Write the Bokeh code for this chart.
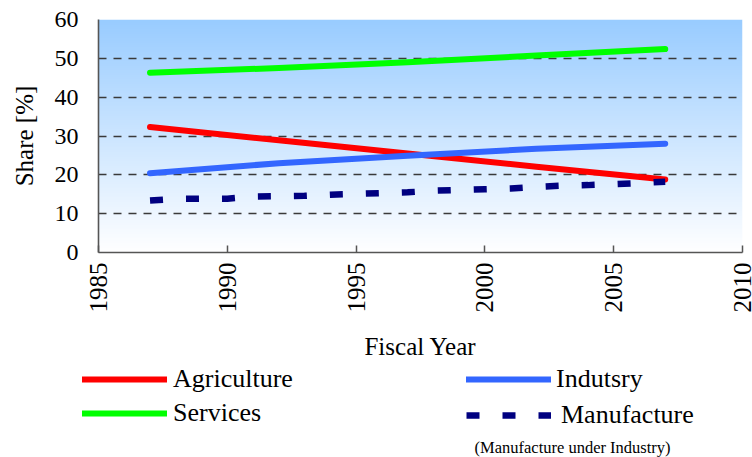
import numpy as np
from math import pi
from bokeh.plotting import figure
from bokeh.layouts import column
from bokeh.models import Range1d, FixedTicker, Legend, LegendItem, Label
from bokeh.embed import file_html
from bokeh.resources import INLINE

# ---- data ----
years = [1987, 1992, 1997, 2002, 2007]
agriculture = [32.3, 28.9, 25.5, 22.1, 18.8]
industry = [20.4, 23.0, 24.9, 26.7, 28.0]
services = [46.3, 47.5, 49.0, 50.7, 52.4]

manu_years = [1987, 1988, 1989, 1990, 1991, 1992, 1993, 1994, 1995, 1996, 1997,
              1998, 1999, 2000, 2001, 2002, 2003, 2004, 2005, 2006, 2007]
manufacture = [13.4, 13.8, 13.85, 13.85, 14.4, 14.5, 14.6, 14.9, 15.1, 15.3, 15.5,
               15.9, 16.1, 16.3, 16.5, 16.9, 17.2, 17.35, 17.6, 17.9, 18.2]

x_ticks = [1985, 1990, 1995, 2000, 2005, 2010]
y_ticks = [0, 10, 20, 30, 40, 50, 60]

FONT = "Liberation Serif"
W = 752
H_MAIN = 364
H_LEG = 457 - H_MAIN

STYLES = {
    "Agriculture": dict(line_color="#FF0000", line_width=6, line_cap="round", line_join="round"),
    "Services": dict(line_color="#00FF00", line_width=6, line_cap="round", line_join="round"),
    "Indutsry": dict(line_color="#3366FF", line_width=6, line_cap="round", line_join="round"),
    "Manufacture": dict(line_color="#000080", line_width=6.5, line_dash="13 23"),
}

p = figure(width=W, height=H_MAIN, output_backend="svg", toolbar_location=None,
           x_range=Range1d(1985, 2010), y_range=Range1d(0, 60),
           min_border_left=98, min_border_right=10, min_border_top=19,
           min_border_bottom=H_MAIN - 252)
p.outline_line_color = None
p.background_fill_color = "white"
p.border_fill_color = "white"

# gradient background (light blue at top to white at bottom)
n = 256
t = np.linspace(0, 1, n)
r = (255 + (153 - 255) * t).astype(np.uint32)
g = (255 + (204 - 255) * t).astype(np.uint32)
b = np.full(n, 255, dtype=np.uint32)
a = np.full(n, 255, dtype=np.uint32)
col = (a << 24) | (b << 16) | (g << 8) | r
img = col.reshape(n, 1).astype(np.uint32)
bg = p.image_rgba(image=[img], x=1985, y=0, dw=25, dh=60)
bg.level = "image"

# grid
p.xgrid.grid_line_color = None
p.ygrid.grid_line_color = "#3a3a3a"
p.ygrid.grid_line_dash = "8 7"
p.ygrid.grid_line_width = 1.3

# axes
p.xaxis.ticker = FixedTicker(ticks=x_ticks)
p.yaxis.ticker = FixedTicker(ticks=y_ticks)
for ax in (p.xaxis[0], p.yaxis[0]):
    ax.axis_line_color = "#555555"
    ax.axis_line_width = 1.6
    ax.major_tick_line_color = "#555555"
    ax.major_tick_line_width = 1.5
    ax.minor_tick_line_color = None
    ax.major_label_text_font = FONT
    ax.major_label_text_color = "black"
    ax.axis_label_text_font = FONT
    ax.axis_label_text_font_style = "normal"
    ax.axis_label_text_color = "black"
    ax.axis_label_text_font_size = "25px"

p.xaxis.major_label_orientation = pi / 2
p.xaxis.major_label_text_font_size = "25px"
p.xaxis.major_tick_in = 7
p.xaxis.major_tick_out = 0
p.xaxis.major_label_standoff = 10
p.xaxis.axis_label = "Fiscal Year"
p.xaxis.axis_label_standoff = 17

p.yaxis.major_label_text_font_size = "24px"
p.yaxis.major_tick_in = 0
p.yaxis.major_tick_out = 0
p.yaxis.major_label_standoff = 20
p.yaxis.axis_label = "Share [%]"
p.yaxis.axis_label_standoff = 14

# series
p.line(years, agriculture, **STYLES["Agriculture"])
p.line(years, services, **STYLES["Services"])
p.line(years, industry, **STYLES["Indutsry"])
p.line(manu_years, manufacture, **STYLES["Manufacture"])

# ---- legend area (separate strip under the chart) ----
q = figure(width=W, height=H_LEG, output_backend="svg", toolbar_location=None,
           x_range=Range1d(0, W), y_range=Range1d(H_LEG, 0),
           min_border=0, min_border_left=0, min_border_right=0,
           min_border_top=0, min_border_bottom=0)
q.axis.visible = False
q.grid.visible = False
q.outline_line_color = None
q.background_fill_color = "white"
q.border_fill_color = "white"

for fig in (p, q):
    if "frame_align" in fig.properties():
        fig.frame_align = False

# legend swatches (no data points, only their styles)
nan = float("nan")
proxies = {name: q.line(x=[nan], y=[nan], **st) for name, st in STYLES.items()}

ROW_H = 30
GAP = 4

def make_legend(names, vx, first_center, standoff):
    k = len(names)
    leg_h = k * ROW_H + (k - 1) * GAP
    top_local = first_center - ROW_H / 2 - H_MAIN
    vy = H_LEG - (top_local + leg_h)
    return Legend(items=[LegendItem(label=nm, renderers=[proxies[nm]]) for nm in names],
                  location=(vx, vy), orientation="vertical",
                  glyph_width=85, glyph_height=ROW_H, label_height=ROW_H,
                  label_standoff=standoff, spacing=GAP, padding=0, margin=0,
                  border_line_color=None, background_fill_alpha=0,
                  label_text_font=FONT, label_text_font_size="26px",
                  label_text_color="black")

q.add_layout(make_legend(["Agriculture", "Services"], 82, 379, 6))
q.add_layout(make_legend(["Indutsry"], 466, 379, 5))
q.add_layout(make_legend(["Manufacture"], 466, 415, 10))

q.add_layout(Label(x=474, y=446.7 - H_MAIN, text="(Manufacture under Industry)",
                   text_font=FONT, text_font_size="16.5px", text_baseline="middle",
                   text_color="black"))

layout = column(p, q, spacing=0)
open("out.html", "w").write(file_html(layout, INLINE))
